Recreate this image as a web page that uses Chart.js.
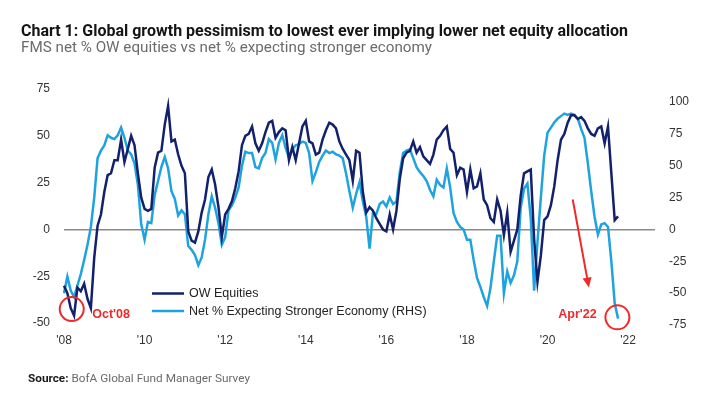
<!DOCTYPE html>
<html lang="en">
<head>
<meta charset="UTF-8">
<title>Chart 1: Global growth pessimism</title>
<script src="https://cdn.jsdelivr.net/npm/chart.js"></script>
<style>
  html, body { margin: 0; padding: 0; background: #fff; }
</style>
</head>
<body>
<canvas id="grafico" width="708" height="399"></canvas>
<script>
// monthly FMS readings, Jul'08 .. Apr'22
const owEquities = [
  -30, -34, -42, -46, -31, -33, -29, -37, -42, -15, 2, 8, 20, 29, 30, 37, 37, 48, 36, 43,
  50, 45, 30, 17, 11, 10, 11, 33, 41, 42, 56, 66, 47, 48, 40, 34, 30, -1, -6, -7,
  -1, 9, 16, 28, 32, 24, 12, -4, 8, 11, 15, 22, 31, 45, 50, 51, 55, 46, 42, 46,
  52, 57, 58, 49, 52, 54, 53, 37, 44, 37, 46, 55, 58, 47, 46, 40, 41, 48, 53, 57,
  56, 54, 47, 43, 40, 37, 26, 42, 41, 20, 9, 12, 10, 6, 3, 0, -1, 8, 0, 10,
  27, 38, 41, 42, 47, 41, 44, 39, 37, 35, 40, 48, 50, 53, 55, 43, 41, 29, 33, 32,
  20, 32, 22, 23, 30, 16, 13, 6, 4, 16, 10, -3, 9, -12, -6, 0, 18, 30, 31, 32,
  -5, -28, -14, 5, 7, 13, 23, 37, 48, 51, 57, 61, 61, 59, 60, 58, 54, 51, 50, 54,
  55, 46, 55, 30, 5, 7
];
const strongerEconomy = [
  -50, -37, -48, -53, -44, -35, -24, -12, 2, 25, 56, 62, 66, 74, 72, 71, 74, 80, 72, 62,
  59, 52, 35, 4, -8, 6, 5, 27, 38, 49, 57, 48, 30, 24, 11, 15, 12, -13, -16, -20,
  -28, -22, -8, 12, 26, 17, 5, -12, -6, 15, 19, 25, 33, 50, 61, 60, 60, 49, 48, 56,
  60, 71, 68, 55, 68, 74, 64, 56, 63, 66, 67, 69, 68, 60, 38, 45, 53, 58, 62, 60,
  61, 59, 58, 56, 44, 30, 17, 28, 37, 22, 10, -15, 13, 12, 20, 22, 18, 25, 20, 22,
  45, 60, 62, 63, 56, 49, 45, 42, 38, 31, 26, 39, 35, 33, 48, 33, 13, 6, 2, 0,
  -8, -8, -24, -38, -45, -53, -60, -46, -25, -5, -5, -50, -33, -42, -36, -25, 17, 32, 36, 9,
  -48, -10, 25, 58, 76, 80, 84, 87, 89, 91, 90, 91, 90, 87, 79, 72, 52, 30, 10, -4,
  4, 5, 2, -25, -58, -70
];
const xTickLabels = ["'08", "'10", "'12", "'14", "'16", "'18", "'20", "'22"];
const leftTicks = [-50, -25, 0, 25, 50, 75];
const rightTicks = [-75, -50, -25, 0, 25, 50, 75, 100];

// month categories from Jul 2008, running a little past the last reading
const months = [];
for (let k = 0; k < 177; k++) {
  const m = 6 + k;
  months.push((2008 + Math.floor(m / 12)) + '-' + String(m % 12 + 1).padStart(2, '0'));
}

const fonte = "'Liberation Sans', Arial, sans-serif";
const vermelho = '#ee2a2a';

// draws text squeezed into a given width
function textoAjustado(ctx, partes, x, y, largura) {
  let total = 0;
  partes.forEach(p => { ctx.font = p.font; p.w = ctx.measureText(p.text).width; total += p.w; });
  ctx.save();
  ctx.translate(x, y);
  ctx.scale(largura / total, 1);
  let px = 0;
  partes.forEach(p => {
    ctx.font = p.font;
    ctx.fillStyle = p.color;
    ctx.fillText(p.text, px, 0);
    px += p.w;
  });
  ctx.restore();
}

const textos = {
  id: 'textos',
  afterDraw(chart) {
    const ctx = chart.ctx;
    const x = chart.scales.x, yL = chart.scales.yL, yR = chart.scales.yR;
    ctx.save();
    ctx.textBaseline = 'alphabetic';
    textoAjustado(ctx, [{ text: 'Chart 1: Global growth pessimism to lowest ever implying lower net equity allocation', font: "bold 17px Roboto", color: '#151515' }], 21, 36, 607);
    textoAjustado(ctx, [{ text: 'FMS net % OW equities vs net % expecting stronger economy', font: "14px Roboto", color: '#6b6b6b' }], 21, 52, 411);
    textoAjustado(ctx, [
      { text: 'Source:', font: "bold 11px Roboto", color: '#1a1a1a' },
      { text: ' BofA Global Fund Manager Survey', font: "11px Roboto", color: '#6b6b6b' }
    ], 28, 382, 222);

    // legend
    ctx.lineWidth = 2.5;
    ctx.textBaseline = 'middle';
    const linhas = [293.5, 311];
    chart.data.datasets.forEach((ds, k) => {
      ctx.strokeStyle = ds.borderColor;
      ctx.beginPath();
      ctx.moveTo(152, linhas[k]);
      ctx.lineTo(184, linhas[k]);
      ctx.stroke();
      ctx.fillStyle = '#222';
      ctx.font = '12.5px ' + fonte;
      ctx.fillText(ds.label, 189, linhas[k] + 0.5);
    });

    // annotations
    ctx.strokeStyle = vermelho;
    ctx.fillStyle = vermelho;
    ctx.lineWidth = 2;
    ctx.beginPath();
    ctx.arc(x.getPixelForValue(2.3), yL.getPixelForValue(-42.5), 12, 0, Math.PI * 2);
    ctx.stroke();
    ctx.beginPath();
    ctx.arc(x.getPixelForValue(164.8), yR.getPixelForValue(-69), 12, 0, Math.PI * 2);
    ctx.stroke();

    ctx.font = 'bold 12.5px ' + fonte;
    ctx.textAlign = 'left';
    ctx.fillText("Oct'08", x.getPixelForValue(8.4), yL.getPixelForValue(-45.5));
    ctx.fillText("Apr'22", x.getPixelForValue(147.2), yL.getPixelForValue(-45.5));

    const x1 = x.getPixelForValue(151.5), y1 = yL.getPixelForValue(16);
    const x2 = x.getPixelForValue(156.3), y2 = yL.getPixelForValue(-31);
    const ang = Math.atan2(y2 - y1, x2 - x1);
    ctx.beginPath();
    ctx.moveTo(x1, y1);
    ctx.lineTo(x2 - 8 * Math.cos(ang), y2 - 8 * Math.sin(ang));
    ctx.stroke();
    ctx.beginPath();
    ctx.moveTo(x2, y2);
    ctx.lineTo(x2 - 10 * Math.cos(ang) + 4.5 * Math.sin(ang), y2 - 10 * Math.sin(ang) - 4.5 * Math.cos(ang));
    ctx.lineTo(x2 - 10 * Math.cos(ang) - 4.5 * Math.sin(ang), y2 - 10 * Math.sin(ang) + 4.5 * Math.cos(ang));
    ctx.closePath();
    ctx.fill();
    ctx.restore();
  }
};

const fonteTicks = { family: fonte, size: 12 };

new Chart(document.getElementById('grafico'), {
  type: 'line',
  data: {
    labels: months,
    datasets: [{
      label: 'OW Equities',
      data: owEquities,
      yAxisID: 'yL',
      borderColor: '#13216d',
      borderWidth: 2.5,
      pointRadius: 0,
      tension: 0,
      fill: false
    }, {
      label: 'Net % Expecting Stronger Economy (RHS)',
      data: strongerEconomy,
      yAxisID: 'yR',
      borderColor: '#1fa3df',
      borderWidth: 2.5,
      pointRadius: 0,
      tension: 0,
      fill: false
    }]
  },
  options: {
    responsive: false,
    animation: false,
    layout: { padding: { top: 89, left: 14, right: 0, bottom: 0 } },
    plugins: { legend: { display: false }, tooltip: { enabled: false } },
    scales: {
      x: {
        offset: false,
        grid: { display: false, drawTicks: false },
        border: { display: false },
        afterBuildTicks: a => { a.ticks = a.ticks.filter(t => t.value % 24 === 0); },
        afterFit: a => { a.height = 74; },
        ticks: {
          autoSkip: false, maxRotation: 0, padding: 8, color: '#333', font: fonteTicks,
          callback: v => xTickLabels[v / 24]
        }
      },
      yL: {
        position: 'left',
        min: -51,
        max: 75,
        afterBuildTicks: a => { a.ticks = leftTicks.map(v => ({ value: v })); },
        afterFit: a => { a.width = 50; },
        grid: {
          drawTicks: false,
          lineWidth: 1.5,
          color: c => (c.tick && c.tick.value === 0) ? '#8a8a8a' : 'rgba(0,0,0,0)'
        },
        border: { display: false },
        ticks: { padding: 14, color: '#333', font: fonteTicks }
      },
      yR: {
        position: 'right',
        min: -75,
        max: 110.3,
        afterBuildTicks: a => { a.ticks = rightTicks.map(v => ({ value: v })); },
        afterFit: a => { a.width = 53; },
        grid: { display: false, drawTicks: false },
        border: { display: false },
        ticks: { padding: 14, color: '#333', font: fonteTicks }
      }
    }
  },
  plugins: [textos]
});
</script>
</body>
</html>
